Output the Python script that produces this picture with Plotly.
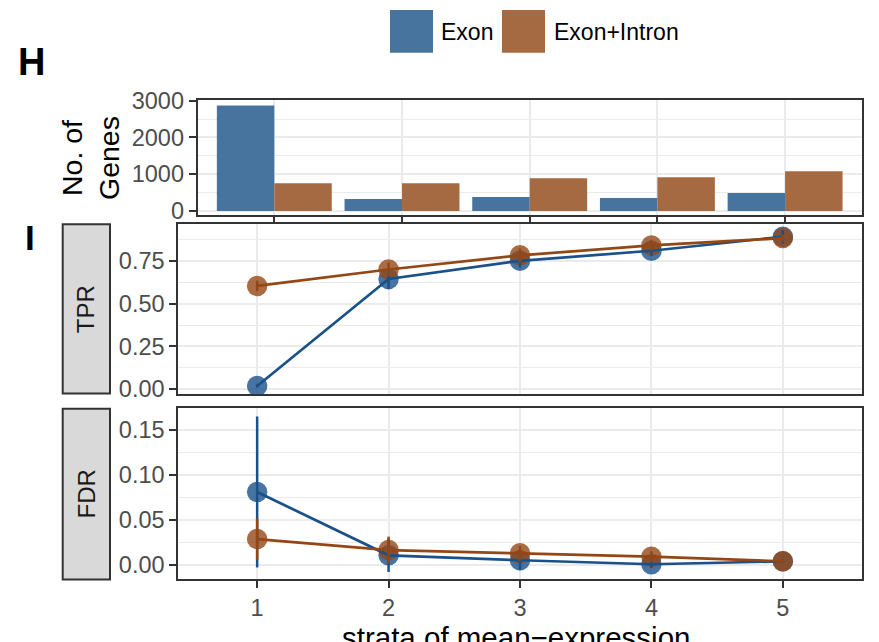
import plotly.graph_objects as go

# ---------------- data ----------------
strata = [1, 2, 3, 4, 5]
strata_labels = ["1", "2", "3", "4", "5"]
series_names = ["Exon", "Exon+Intron"]

genes_exon = [2870, 324, 378, 351, 486]
genes_exon_intron = [757, 757, 892, 919, 1081]

tpr_exon = [0.018, 0.645, 0.751, 0.810, 0.892]
tpr_exon_err = [0.010, 0.060, 0.040, 0.030, 0.040]
tpr_exon_intron = [0.604, 0.700, 0.783, 0.841, 0.884]
tpr_exon_intron_err = [0.030, 0.040, 0.040, 0.030, 0.020]

fdr_exon = [0.081, 0.0105, 0.0050, 0.0005, 0.0038]
fdr_exon_err = [0.084, 0.0185, 0.0110, 0.0040, 0.0020]
fdr_exon_intron = [0.0286, 0.0163, 0.0127, 0.0090, 0.0038]
fdr_exon_intron_err = [0.023, 0.015, 0.008, 0.006, 0.002]

facet_labels = ["TPR", "FDR"]
panel_tags = ["H", "I"]
x_title = "strata of mean\u2212expression"
y_title_bar = "No. of<br>Genes"

# ---------------- style ----------------
W, H = 879, 642
FONT = "Liberation Sans, Arial, Helvetica, sans-serif"
BLUE_BAR = "#47739F"
BROWN_BAR = "#A66A42"
BLUE = "#1A5189"
BROWN = "#934715"
GRID = "#EBEBEB"
AX = "#333333"
TICKC = "#4D4D4D"


def px_x(p):
    return p / W


def px_y(p):
    return 1 - p / H


fig = go.Figure()

# bars
fig.add_trace(go.Bar(x=strata_labels, y=genes_exon, name=series_names[0],
                     marker=dict(color=BLUE_BAR, line=dict(width=0)),
                     xaxis="x", yaxis="y", showlegend=False))
fig.add_trace(go.Bar(x=strata_labels, y=genes_exon_intron, name=series_names[1],
                     marker=dict(color=BROWN_BAR, line=dict(width=0)),
                     xaxis="x", yaxis="y", showlegend=False))

panels = [
    ("x2", "y2", tpr_exon, tpr_exon_err, tpr_exon_intron, tpr_exon_intron_err),
    ("x3", "y3", fdr_exon, fdr_exon_err, fdr_exon_intron, fdr_exon_intron_err),
]
for xa, ya, e, ee, ei, eie in panels:
    # points
    for vals, col, nm in ((e, BLUE, series_names[0]), (ei, BROWN, series_names[1])):
        fig.add_trace(go.Scatter(x=strata, y=vals, mode="markers", name=nm,
                                 marker=dict(color=col, size=20.5, opacity=0.8,
                                             line=dict(width=0)),
                                 xaxis=xa, yaxis=ya, showlegend=False))
    # lines + error bars
    for vals, errs, col, nm in ((e, ee, BLUE, series_names[0]),
                                (ei, eie, BROWN, series_names[1])):
        fig.add_trace(go.Scatter(x=strata, y=vals, mode="lines", name=nm,
                                 line=dict(color=col, width=2.7),
                                 error_y=dict(type="data", array=errs, visible=True,
                                              color=col, thickness=2.5, width=0),
                                 xaxis=xa, yaxis=ya, showlegend=False))

common_axis = dict(showline=True, linecolor=AX, linewidth=2, mirror=True,
                   ticks="outside", ticklen=7, tickwidth=2, tickcolor=AX,
                   gridcolor=GRID, gridwidth=2, zeroline=False, automargin=False,
                   tickfont=dict(family=FONT, size=23.5, color=TICKC))

bar_x = [197.7, 861.7]
low_x = [178.3, 861.7]

layout = dict(
    template="none",
    width=W, height=H, autosize=False,
    margin=dict(l=0, r=0, t=0, b=0, pad=0),
    paper_bgcolor="white", plot_bgcolor="white",
    barmode="group", bargap=0.1, bargroupgap=0,
    showlegend=False,
    font=dict(family=FONT),
    xaxis=dict(common_axis, type="category", range=[-0.6, 4.6],
               domain=[px_x(bar_x[0]), px_x(bar_x[1])], anchor="y",
               showticklabels=False, showgrid=True),
    yaxis=dict(common_axis, range=[-110, 3020], tickvals=[0, 1000, 2000, 3000],
               domain=[px_y(215), px_y(100)], anchor="x",
               minor=dict(tickvals=[500, 1500, 2500], showgrid=True,
                          gridcolor=GRID, gridwidth=1, ticks="")),
    xaxis2=dict(common_axis, range=[0.4, 5.6], tickvals=strata,
                domain=[px_x(low_x[0]), px_x(low_x[1])], anchor="y2",
                showticklabels=False, ticks="", showgrid=True),
    yaxis2=dict(common_axis, range=[-0.0293, 0.965],
                tickvals=[0, 0.25, 0.5, 0.75],
                ticktext=["0.00", "0.25", "0.50", "0.75"],
                domain=[px_y(394), px_y(224.3)], anchor="x2",
                minor=dict(tickvals=[0.125, 0.375, 0.625, 0.875], showgrid=True,
                           gridcolor=GRID, gridwidth=1, ticks="")),
    xaxis3=dict(common_axis, range=[0.4, 5.6], tickvals=strata,
                ticktext=strata_labels,
                domain=[px_x(low_x[0]), px_x(low_x[1])], anchor="y3",
                showgrid=True),
    yaxis3=dict(common_axis, range=[-0.0159, 0.1742],
                tickvals=[0, 0.05, 0.10, 0.15],
                ticktext=["0.00", "0.05", "0.10", "0.15"],
                domain=[px_y(579), px_y(408.3)], anchor="x3",
                minor=dict(tickvals=[0.025, 0.075, 0.125], showgrid=True,
                           gridcolor=GRID, gridwidth=1, ticks="")),
)
fig.update_layout(**layout)

shapes = []
annotations = []

# facet strips
strip_y = [(224.3, 393.5), (408.7, 579.5)]
for (y0, y1), lab in zip(strip_y, facet_labels):
    shapes.append(dict(type="rect", xref="paper", yref="paper",
                       x0=px_x(62.7), x1=px_x(110), y0=px_y(y1), y1=px_y(y0),
                       fillcolor="#D9D9D9", line=dict(color=AX, width=2)))
    annotations.append(dict(text=lab, xref="paper", yref="paper",
                            x=px_x(86.3), y=px_y((y0 + y1) / 2), textangle=-90,
                            showarrow=False, xanchor="center", yanchor="middle",
                            font=dict(family=FONT, size=24, color="#1A1A1A")))

# legend keys
legend_items = [(390, 433, 441, series_names[0], BLUE_BAR),
                (502, 545, 554, series_names[1], BROWN_BAR)]
for x0, x1, tx, name, col in legend_items:
    shapes.append(dict(type="rect", xref="paper", yref="paper",
                       x0=px_x(x0), x1=px_x(x1), y0=px_y(52.7), y1=px_y(10),
                       fillcolor=col, line=dict(width=0)))
    annotations.append(dict(text=name, xref="paper", yref="paper",
                            x=px_x(tx - 2), y=px_y(31.5), showarrow=False,
                            xanchor="left", yanchor="middle",
                            font=dict(family=FONT, size=23, color="black")))

# panel tags
annotations.append(dict(text="<b>%s</b>" % panel_tags[0], xref="paper", yref="paper",
                        x=px_x(16), y=px_y(62.5), showarrow=False,
                        xanchor="left", yanchor="middle",
                        font=dict(family=FONT, size=38, color="black")))
annotations.append(dict(text="<b>%s</b>" % panel_tags[1], xref="paper", yref="paper",
                        x=px_x(22.5), y=px_y(237), showarrow=False,
                        xanchor="left", yanchor="middle",
                        font=dict(family=FONT, size=35, color="black")))

# y title of bar panel
annotations.append(dict(text=y_title_bar, xref="paper", yref="paper",
                        x=px_x(90), y=px_y(158), textangle=-90, showarrow=False,
                        xanchor="center", yanchor="middle",
                        font=dict(family=FONT, size=28.5, color="black")))

# x title
annotations.append(dict(text=x_title, xref="paper", yref="paper",
                        x=px_x(516), y=px_y(637), showarrow=False,
                        xanchor="center", yanchor="middle",
                        font=dict(family=FONT, size=29.5, color="black")))

fig.update_layout(shapes=shapes, annotations=annotations)

fig.write_html(
    "out.html",
    config={"displayModeBar": False},
    post_script="document.documentElement.style.margin='0';"
                "document.body.style.margin='0';"
                "document.body.style.overflow='hidden';",
)
